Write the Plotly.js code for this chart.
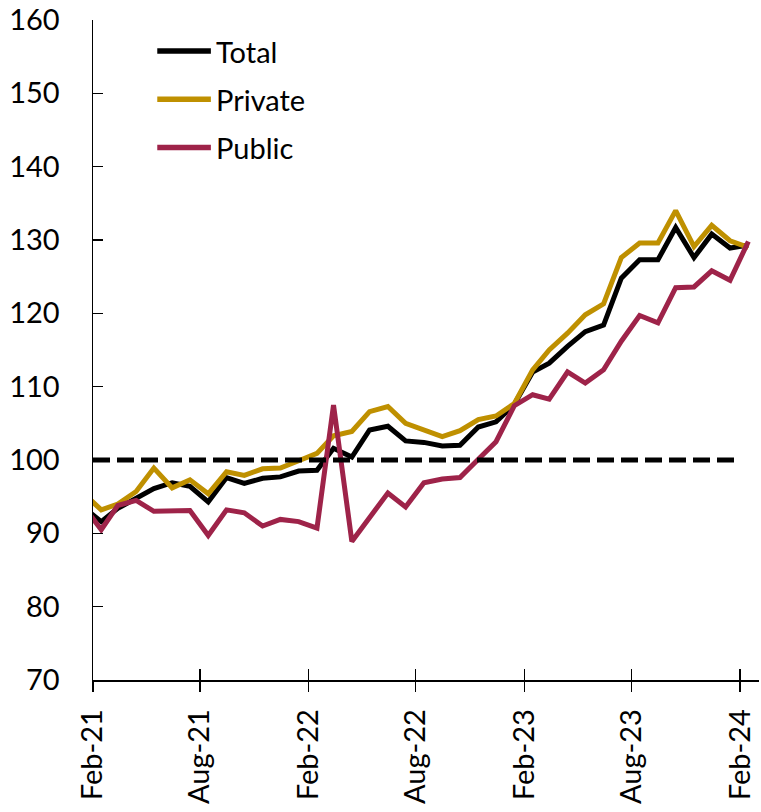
<!DOCTYPE html>
<html>
<head>
<meta charset="utf-8">
<script src="https://cdn.plot.ly/plotly-3.0.1.min.js"></script>
<style>
  html, body { margin: 0; padding: 0; background: #ffffff; }
  #chart { width: 761px; height: 812px; }
</style>
</head>
<body>
<div id="chart"></div>
<script>
// Monthly observations (mid-month), Jan-21 .. Feb-24
const months = [
  '2021-01-15','2021-02-15','2021-03-15','2021-04-15','2021-05-15','2021-06-15','2021-07-15',
  '2021-08-15','2021-09-15','2021-10-15','2021-11-15','2021-12-15','2022-01-15',
  '2022-02-15','2022-03-15','2022-04-15','2022-05-15','2022-06-15','2022-07-15',
  '2022-08-15','2022-09-15','2022-10-15','2022-11-15','2022-12-15','2023-01-15',
  '2023-02-15','2023-03-15','2023-04-15','2023-05-15','2023-06-15','2023-07-15',
  '2023-08-15','2023-09-15','2023-10-15','2023-11-15','2023-12-15','2024-01-15',
  '2024-02-15'
];

const total = [
  93.6, 91.6, 93.4, 94.8, 96.1, 96.9, 96.4,
  94.3, 97.6, 96.8, 97.5, 97.7, 98.5,
  98.6, 101.6, 100.4, 104.1, 104.6, 102.6,
  102.4, 101.9, 102.0, 104.5, 105.2, 107.6,
  112.0, 113.2, 115.5, 117.5, 118.4, 124.8,
  127.3, 127.3, 131.7, 127.6, 130.8, 128.9,
  129.3
];

const privateSector = [
  95.5, 93.2, 94.0, 95.7, 98.9, 96.2, 97.3,
  95.4, 98.4, 97.9, 98.8, 98.9, 99.9,
  100.9, 103.3, 103.9, 106.6, 107.3, 105.0,
  104.1, 103.2, 104.0, 105.5, 106.0, 107.7,
  112.3, 115.0, 117.3, 119.8, 121.3, 127.6,
  129.6, 129.6, 134.0, 129.1, 132.0, 129.9,
  129.0
];

const publicSector = [
  93.8, 90.5, 93.8, 94.5, 93.0, 93.0, 93.1,
  89.7, 93.2, 92.8, 91.0, 91.9, 91.6,
  90.7, 107.5, 88.9, 92.2, 95.5, 93.6,
  96.9, 97.4, 97.6, 100.1, 102.5, 107.4,
  108.9, 108.3, 112.0, 110.5, 112.3, 116.2,
  119.7, 118.7, 123.5, 123.6, 125.8, 124.5,
  129.8
];

const seriesNames = ['Total', 'Private', 'Public'];
const seriesColors = ['#000000', '#BF9000', '#9E2349'];

const tickVals = ['2021-02-01','2021-08-01','2022-02-01','2022-08-01','2023-02-01','2023-08-01','2024-02-01'];
const tickText = ['Feb-21','Aug-21','Feb-22','Aug-22','Feb-23','Aug-23','Feb-24'];

const baselineValue = 100;
const baselineDates = [tickVals[0], tickVals[tickVals.length - 1]];

const yTickVals = [70, 80, 90, 100, 110, 120, 130, 140, 150, 160];

const FONT = 'Lato, "DejaVu Sans", sans-serif';
const xRange = ['2021-02-01', '2024-03-04'];

const seriesValues = [total, privateSector, publicSector];

const traces = [];
traces.push({
  x: baselineDates,
  y: baselineDates.map(() => baselineValue),
  xaxis: 'x2',
  type: 'scatter', mode: 'lines',
  line: { color: '#000000', width: 5, dash: '17px,7px' },
  hoverinfo: 'skip', showlegend: false
});
seriesValues.forEach((vals, i) => {
  traces.push({
    x: months, y: vals, name: seriesNames[i],
    type: 'scatter', mode: 'lines',
    line: { color: seriesColors[i], width: 5 },
    hoverinfo: 'skip', showlegend: false
  });
});

// Manual legend (paper coordinates)
const legendY = [0.953, 0.880, 0.807];
const shapes = [];
const annotations = [];
seriesNames.forEach((nm, i) => {
  shapes.push({
    type: 'line', xref: 'paper', yref: 'paper',
    x0: 0.0965, x1: 0.177, y0: legendY[i], y1: legendY[i],
    line: { color: seriesColors[i], width: 5.5 }
  });
  annotations.push({
    xref: 'paper', yref: 'paper', x: 0.181, y: legendY[i],
    xanchor: 'left', yanchor: 'middle', showarrow: false,
    text: nm, font: { family: FONT, size: 29, color: '#000000' }
  });
});

const layout = {
  width: 761, height: 812,
  margin: { l: 93, r: 2, t: 20, b: 132 },
  paper_bgcolor: '#ffffff', plot_bgcolor: '#ffffff',
  showlegend: false,
  font: { family: FONT, size: 29, color: '#000000' },
  xaxis: {
    type: 'date', range: xRange,
    tickmode: 'array', tickvals: tickVals, ticktext: tickText,
    tickangle: -90,
    ticks: 'outside', ticklen: 10, tickwidth: 1.5, tickcolor: '#000000',
    showline: true, linecolor: '#000000', linewidth: 1.5,
    showgrid: false, zeroline: false,
    tickfont: { family: FONT, size: 29, color: '#000000' },
    ticklabelstandoff: 6,
    fixedrange: true
  },
  xaxis2: {
    type: 'date', range: xRange, overlaying: 'x', anchor: 'y', side: 'bottom',
    tickmode: 'array', tickvals: tickVals,
    ticks: 'inside', ticklen: 11, tickwidth: 1.5, tickcolor: '#000000',
    showticklabels: false, showline: false, showgrid: false, zeroline: false,
    fixedrange: true
  },
  yaxis: {
    range: [70, 160],
    tickmode: 'array', tickvals: yTickVals,
    ticks: 'inside', ticklen: 10, tickwidth: 1.5, tickcolor: '#000000',
    showline: true, linecolor: '#000000', linewidth: 1.5,
    showgrid: false, zeroline: false,
    tickfont: { family: FONT, size: 29, color: '#000000' },
    ticklabelstandoff: 26,
    fixedrange: true
  },
  shapes: shapes,
  annotations: annotations
};

Plotly.newPlot('chart', traces, layout, { displayModeBar: false, staticPlot: true });
</script>
</body>
</html>
